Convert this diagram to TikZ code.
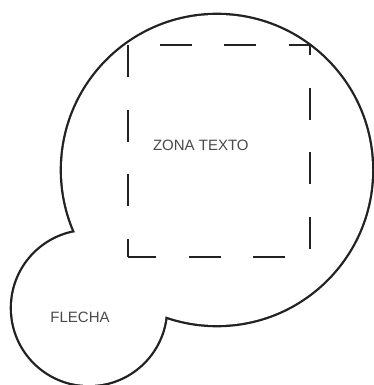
\documentclass[tikz,border=0pt]{standalone}
\usepackage{fontspec}
\setmainfont{Liberation Sans}
\definecolor{ink}{HTML}{222222}
\definecolor{txt}{HTML}{4A4A4A}
\begin{document}
\begin{tikzpicture}[x=1pt,y=-1pt,
  blob/.style={draw=ink,line width=4.6pt},
  blobfill/.style={fill=white},
  zone/.style={draw=ink,line width=2pt,dash pattern=on 32pt off 32.5pt,dash phase=14pt},
  label/.style={text=txt,font=\fontsize{15}{17}\selectfont,inner sep=0pt}]
\useasboundingbox (0,0) rectangle (373,385);
% union outline of the two circles
\draw[blob] (217,170) circle (155pt);
\draw[blob] (89,308) circle (77pt);
\fill[blobfill] (217,170) circle (155pt);
\fill[blobfill] (89,308) circle (77pt);
% dashed text zone
\draw[zone] (127.7,256.7) -- (127.7,44.7) -- (310,44.7) -- (310,256.7) -- cycle;
\node[label] (zona) at (200.8,145.5) {ZONA TEXTO};
\node[label] (flecha) at (80,317.5) {FLECHA};
\end{tikzpicture}
\end{document}
